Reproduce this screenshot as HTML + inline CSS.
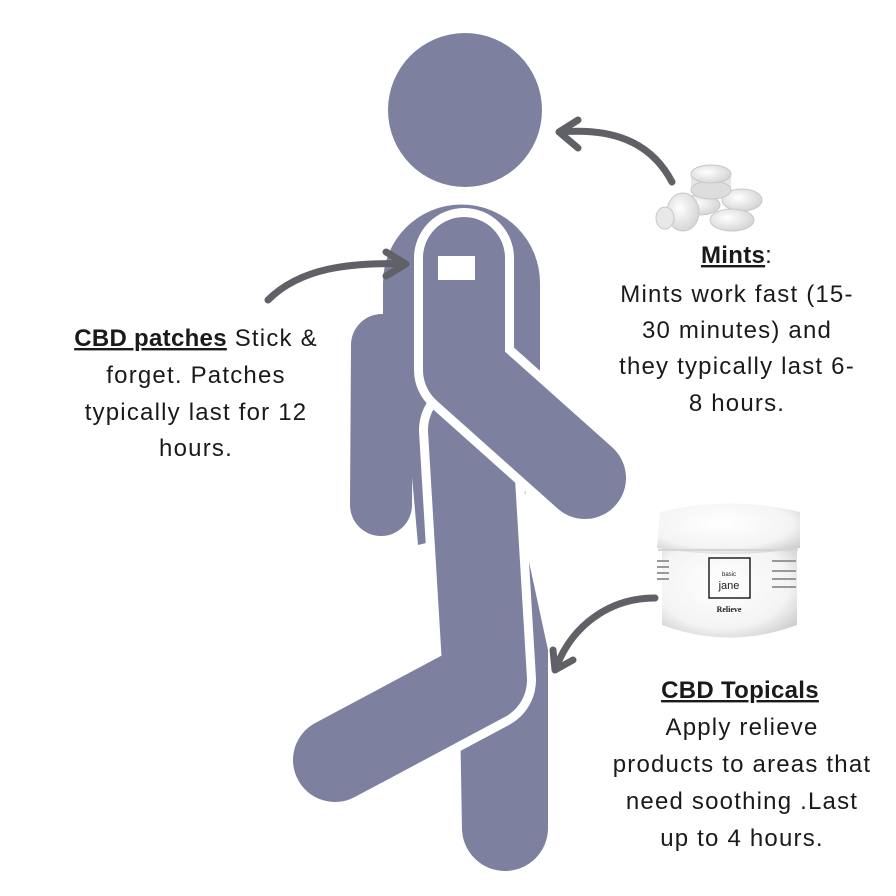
<!DOCTYPE html>
<html><head><meta charset="utf-8"><style>
html,body{margin:0;padding:0;background:#fff;}
body{width:896px;height:896px;overflow:hidden;}
svg{display:block;}
text{font-family:"Liberation Sans",sans-serif;font-size:24px;letter-spacing:1.2px;fill:#1a1a1a;}
.b{font-weight:bold;text-decoration:underline;letter-spacing:0.3px;}
</style></head><body>
<svg width="896" height="896" viewBox="0 0 896 896" xmlns="http://www.w3.org/2000/svg">
<defs>
<radialGradient id="jar" cx="0.45" cy="0.4" r="0.7"><stop offset="0" stop-color="#fff"/><stop offset="0.7" stop-color="#f4f4f4"/><stop offset="1" stop-color="#cfcfcf"/></radialGradient>
<radialGradient id="pill" cx="0.4" cy="0.4" r="0.7"><stop offset="0" stop-color="#fff"/><stop offset="1" stop-color="#d0d0d0"/></radialGradient>
</defs>
<g fill="#7d809f" stroke="none">
<circle cx="465" cy="110" r="77"/>
<polyline points="382,345 381,505" fill="none" stroke="#7d809f" stroke-width="62" stroke-linecap="round"/>
<polygon points="470,520 520,520 548,650 548,830 462,830 458,600"/>
<circle cx="505" cy="828" r="43"/>
<path d="M383,283 A78,78 0 0 1 540,283 L540,420 L520,520 L418,545 L408,430 L383,415 Z"/>
</g>
<polyline points="470,430 485,680 335,760" fill="none" stroke="#fff" stroke-width="102" stroke-linecap="round" stroke-linejoin="round"/>
<polyline points="470,430 485,680 335,760" fill="none" stroke="#7d809f" stroke-width="84" stroke-linecap="round" stroke-linejoin="round"/>
<polyline points="464,258 464,370 585,478" fill="none" stroke="#fff" stroke-width="100" stroke-linecap="round" stroke-linejoin="round"/>
<polyline points="464,258 464,370 585,478" fill="none" stroke="#7d809f" stroke-width="82" stroke-linecap="round" stroke-linejoin="round"/>
<rect x="438" y="256" width="37" height="24" fill="#fff"/>
<g fill="none" stroke="#606166" stroke-width="7" stroke-linecap="round" stroke-linejoin="round">
<path d="M268,300 C300,268 350,262 405,264"/>
<path d="M386,252 L406,264 L386,276"/>
<path d="M672,182 C650,140 610,128 560,132"/>
<path d="M578,120 L559,132 L578,148"/>
<path d="M655,598 C610,598 572,625 556,668"/>
<path d="M553,650 L555,670 L573,660"/>
</g>
<g stroke="#c8c8c8" stroke-width="1">
<ellipse cx="700" cy="205" rx="20" ry="10" fill="url(#pill)"/>
<ellipse cx="742" cy="200" rx="20" ry="11" fill="url(#pill)"/>
<rect x="691" y="172" width="40" height="18" fill="#e6e6e6" stroke="none"/>
<ellipse cx="711" cy="190" rx="20" ry="9" fill="#ddd"/>
<ellipse cx="711" cy="174" rx="20" ry="9" fill="url(#pill)"/>
<ellipse cx="732" cy="220" rx="22" ry="11" fill="url(#pill)"/>
<ellipse cx="683" cy="212" rx="16" ry="19" fill="url(#pill)"/>
<ellipse cx="665" cy="218" rx="9" ry="11" fill="#e8e8e8"/>
</g>
<path d="M662,548 L797,548 L797,625 Q730,650 662,625 Z" fill="url(#jar)"/>
<path d="M657,548 L660,512 Q730,495 800,512 L800,548 Q730,560 657,548 Z" fill="url(#jar)"/>
<line x1="658" y1="550" x2="798" y2="550" stroke="#d5d5d5" stroke-width="2"/>
<rect x="709" y="558" width="41" height="40" fill="none" stroke="#222" stroke-width="1.5"/>
<text x="729" y="576" text-anchor="middle" style="font-size:6px;letter-spacing:0">basic</text>
<text x="729" y="589" text-anchor="middle" style="font-size:11px;letter-spacing:0">jane</text>
<text x="729" y="612" text-anchor="middle" style="font-size:8px;letter-spacing:0;font-family:'Liberation Serif',serif;font-weight:bold">Relieve</text>
<g fill="#999"><rect x="657" y="560" width="12" height="2"/><rect x="657" y="566" width="12" height="2"/><rect x="657" y="572" width="12" height="2"/><rect x="657" y="578" width="12" height="2"/><rect x="772" y="560" width="24" height="2"/><rect x="772" y="570" width="24" height="2"/><rect x="772" y="578" width="24" height="2"/><rect x="772" y="586" width="24" height="2"/></g>
<g text-anchor="middle">
<text x="196" y="346"><tspan class="b">CBD patches</tspan> Stick &amp;</text>
<text x="196" y="383">forget. Patches</text>
<text x="196" y="420">typically last for 12</text>
<text x="196" y="456">hours.</text>
<text x="737" y="263"><tspan class="b">Mints</tspan>:</text>
<text x="737" y="302">Mints work fast  (15-</text>
<text x="737" y="338">30 minutes)  and</text>
<text x="737" y="374">they typically last 6-</text>
<text x="737" y="411">8 hours.</text>
<text x="740" y="698" class="b">CBD Topicals</text>
<text x="742" y="735">Apply relieve</text>
<text x="742" y="772">products to areas that</text>
<text x="742" y="809">need soothing .Last</text>
<text x="742" y="846">up to 4 hours.</text>
</g>
</svg>
</body></html>
